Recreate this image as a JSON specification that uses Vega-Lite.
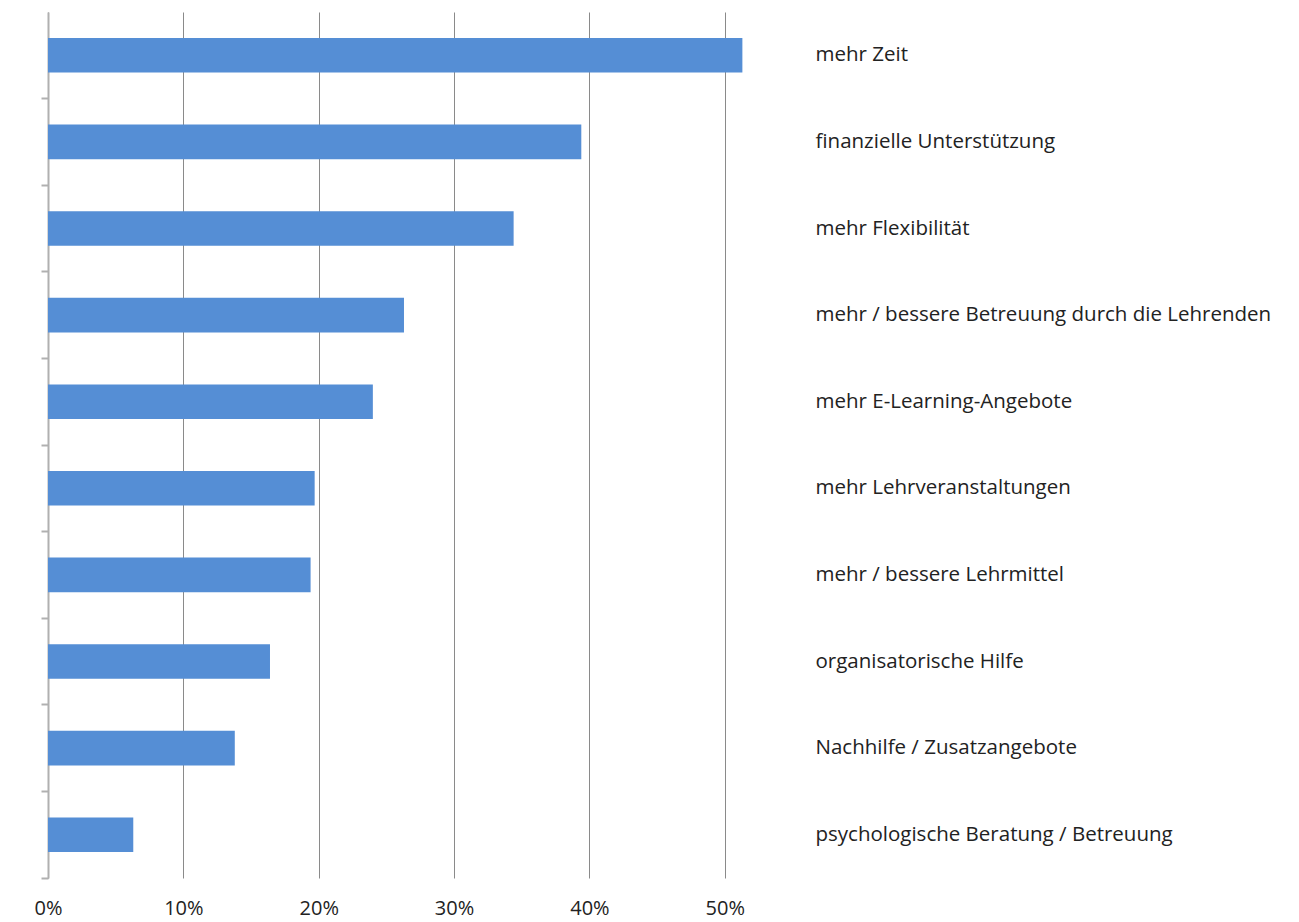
{
  "$schema": "https://vega.github.io/schema/vega-lite/v6.json",
  "autosize": "none",
  "padding": {"left": 48, "top": 12, "right": 493, "bottom": 44},
  "width": 758,
  "height": 866,
  "background": "white",
  "config": {"view": {"stroke": null}, "font": "Open Sans"},
  "data": {
    "values": [
      {"kategorie": "mehr Zeit", "anteil": 0.513},
      {"kategorie": "finanzielle Unterstützung", "anteil": 0.394},
      {"kategorie": "mehr Flexibilität", "anteil": 0.344},
      {"kategorie": "mehr / bessere Betreuung durch die Lehrenden", "anteil": 0.263},
      {"kategorie": "mehr E-Learning-Angebote", "anteil": 0.24},
      {"kategorie": "mehr Lehrveranstaltungen", "anteil": 0.197},
      {"kategorie": "mehr / bessere Lehrmittel", "anteil": 0.194},
      {"kategorie": "organisatorische Hilfe", "anteil": 0.164},
      {"kategorie": "Nachhilfe / Zusatzangebote", "anteil": 0.138},
      {"kategorie": "psychologische Beratung / Betreuung", "anteil": 0.063}
    ]
  },
  "layer": [
    {
      "mark": {"type": "bar", "color": "#558ed5", "height": {"band": 0.4}},
      "encoding": {
        "x": {
          "field": "anteil", "type": "quantitative",
          "scale": {"domain": [0, 0.56], "nice": false},
          "axis": {
            "title": null, "format": ".0%", "values": [0, 0.1, 0.2, 0.3, 0.4, 0.5],
            "domain": false, "ticks": false, "grid": true, "labelFlush": false,
            "gridColor": "#8a8a8a", "gridWidth": 1,
            "labelFontSize": 20, "labelColor": "#222222", "labelPadding": 20
          }
        },
        "y": {
          "field": "kategorie", "type": "nominal", "sort": null,
          "scale": {"paddingInner": 0, "paddingOuter": 0},
          "axis": {
            "orient": "left", "title": null, "labels": false,
            "domain": true, "domainColor": "#b0b0b0", "domainWidth": 2,
            "ticks": true, "tickColor": "#b0b0b0", "tickWidth": 2, "tickSize": 7,
            "bandPosition": 1, "grid": false
          }
        }
      }
    },
    {
      "mark": {"type": "bar", "opacity": 0, "height": {"band": 0.4}},
      "encoding": {
        "x": {"field": "anteil", "type": "quantitative"},
        "y": {
          "field": "kategorie", "type": "nominal", "sort": null,
          "axis": {
            "orient": "right", "title": null, "domain": false, "ticks": false,
            "labelPadding": 9, "labelAlign": "left", "labelLimit": 600,
            "labelFontSize": 20.5, "labelColor": "#222222", "grid": false
          }
        }
      }
    }
  ],
  "resolve": {"axis": {"y": "independent", "x": "shared"}}
}
